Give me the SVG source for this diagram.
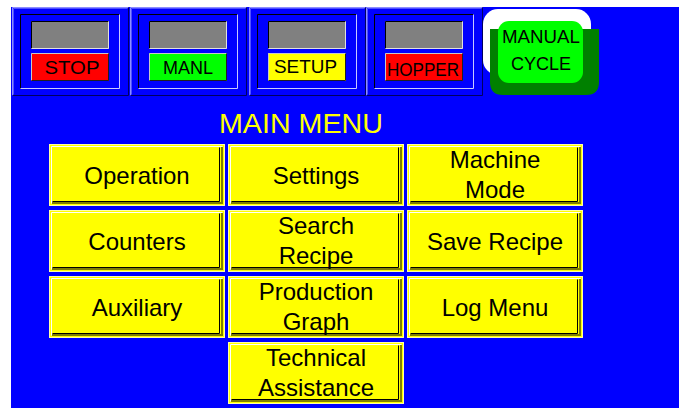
<svg xmlns="http://www.w3.org/2000/svg" width="679" height="408" viewBox="0 0 679 408">
  <defs>
    <style>
      .lbl { font-family: "Liberation Sans", Arial, sans-serif; fill: #000; text-anchor: middle; }
      .btn { font-size: 24px; }
      .st { font-size: 19px; }
      .title { font-family: "Liberation Sans", Arial, sans-serif; font-size: 28px; fill: #ffff00; text-anchor: middle; }
      .ln { fill: none; stroke-width: 1; }
    </style>
    <!-- status panel frame: raised outer frame, sunken inner frame, sunken grey display -->
    <g id="panelFrame">
      <rect x="0" y="0" width="117" height="89" fill="#0000ff"/>
      <polyline class="ln" points="0.5,88.5 0.5,0.5 116.5,0.5" stroke="#8c8cff"/>
      <polyline class="ln" points="1.5,87.5 1.5,1.5 115.5,1.5" stroke="#5050ff"/>
      <polyline class="ln" points="0.5,88.5 116.5,88.5 116.5,0.5" stroke="#000060"/>
      <polyline class="ln" points="8.5,81.5 8.5,7.5 107.5,7.5" stroke="#000000"/>
      <polyline class="ln" points="8.5,81.5 107.5,81.5 107.5,7.5" stroke="#c8c8ff"/>
      <rect x="19" y="14" width="78" height="28" fill="#808080"/>
      <polyline class="ln" points="19.5,41.5 19.5,14.5 96.5,14.5" stroke="#000000"/>
      <polyline class="ln" points="19.5,41.5 96.5,41.5 96.5,14.5" stroke="#e0e0e0"/>
    </g>
    <!-- bevel for the status buttons -->
    <g id="smallBevel">
      <polyline class="ln" points="19.5,73.5 19.5,46.5 96.5,46.5" stroke="#c8c8c8"/>
      <polyline class="ln" points="19.5,73.5 96.5,73.5 96.5,46.5" stroke="#202020"/>
    </g>
    <!-- menu button body -->
    <g id="menuBtn">
      <rect x="0" y="0" width="176" height="62" fill="#ffff00"/>
      <rect class="ln" x="0.5" y="0.5" width="175" height="61" stroke="#ffffa8"/>
      <polyline class="ln" points="2.5,59.5 2.5,2.5 173.5,2.5" stroke="#ffffff"/>
      <polyline class="ln" points="3.5,57.5 170.5,57.5 170.5,3.5" stroke="#000000"/>
      <polyline fill="none" stroke-width="2" points="3,59 173,59 173,3" stroke="#808000"/>
    </g>
  </defs>

  <!-- screen background -->
  <rect x="0" y="0" width="679" height="408" fill="#ffffff"/>
  <rect x="11" y="7" width="668" height="401" fill="#0000ff"/>

  <!-- status panels -->
  <g id="status-stop" transform="translate(12,7)">
    <use href="#panelFrame"/>
    <rect x="19" y="46" width="78" height="28" fill="#ff0000"/>
    <use href="#smallBevel"/>
    <text class="lbl st" x="60" y="67" textLength="55" lengthAdjust="spacingAndGlyphs">STOP</text>
  </g>
  <g id="status-manl" transform="translate(130,7)">
    <use href="#panelFrame"/>
    <rect x="19" y="46" width="78" height="28" fill="#00ff00"/>
    <use href="#smallBevel"/>
    <text class="lbl st" x="58" y="66.5" textLength="50" lengthAdjust="spacingAndGlyphs">MANL</text>
  </g>
  <g id="status-setup" transform="translate(249,7)">
    <use href="#panelFrame"/>
    <rect x="19" y="46" width="78" height="28" fill="#ffff00"/>
    <use href="#smallBevel"/>
    <text class="lbl st" x="56.5" y="66" textLength="63" lengthAdjust="spacingAndGlyphs">SETUP</text>
  </g>
  <g id="status-hopper" transform="translate(366,7)">
    <use href="#panelFrame"/>
    <rect x="19" y="46" width="78" height="28" fill="#ff0000"/>
    <use href="#smallBevel"/>
    <text class="lbl st" x="57" y="69" textLength="72" lengthAdjust="spacingAndGlyphs">HOPPER</text>
  </g>

  <!-- manual cycle lamp -->
  <g id="manual-cycle">
    <rect x="483" y="9" width="108" height="66" rx="15" fill="#ffffff"/>
    <path d="M490,29 H599 V82 Q599,95 586,95 H503 Q490,95 490,82 Z" fill="#008000"/>
    <rect x="498" y="21" width="85" height="62" rx="11" fill="#00ff00"/>
    <text class="lbl" font-size="18" x="541" y="43" textLength="78" lengthAdjust="spacingAndGlyphs">MANUAL</text>
    <text class="lbl" font-size="18" x="541" y="70">CYCLE</text>
  </g>

  <text class="title" x="301" y="133" textLength="164" lengthAdjust="spacingAndGlyphs">MAIN MENU</text>

  <!-- menu buttons -->
  <g id="btn-operation" transform="translate(49,144)">
    <use href="#menuBtn"/>
    <text class="lbl btn" x="88" y="40">Operation</text>
  </g>
  <g id="btn-settings" transform="translate(228,144)">
    <use href="#menuBtn"/>
    <text class="lbl btn" x="88" y="40">Settings</text>
  </g>
  <g id="btn-machine-mode" transform="translate(407,144)">
    <use href="#menuBtn"/>
    <text class="lbl btn" x="88" y="24">Machine</text>
    <text class="lbl btn" x="88" y="54">Mode</text>
  </g>
  <g id="btn-counters" transform="translate(49,210)">
    <use href="#menuBtn"/>
    <text class="lbl btn" x="88" y="40">Counters</text>
  </g>
  <g id="btn-search-recipe" transform="translate(228,210)">
    <use href="#menuBtn"/>
    <text class="lbl btn" x="88" y="24">Search</text>
    <text class="lbl btn" x="88" y="54">Recipe</text>
  </g>
  <g id="btn-save-recipe" transform="translate(407,210)">
    <use href="#menuBtn"/>
    <text class="lbl btn" x="88" y="40">Save Recipe</text>
  </g>
  <g id="btn-auxiliary" transform="translate(49,276)">
    <use href="#menuBtn"/>
    <text class="lbl btn" x="88" y="40">Auxiliary</text>
  </g>
  <g id="btn-production-graph" transform="translate(228,276)">
    <use href="#menuBtn"/>
    <text class="lbl btn" x="88" y="24">Production</text>
    <text class="lbl btn" x="88" y="54">Graph</text>
  </g>
  <g id="btn-log-menu" transform="translate(407,276)">
    <use href="#menuBtn"/>
    <text class="lbl btn" x="88" y="40">Log Menu</text>
  </g>
  <g id="btn-technical-assistance" transform="translate(228,342)">
    <use href="#menuBtn"/>
    <text class="lbl btn" x="88" y="24">Technical</text>
    <text class="lbl btn" x="88" y="54">Assistance</text>
  </g>
</svg>
